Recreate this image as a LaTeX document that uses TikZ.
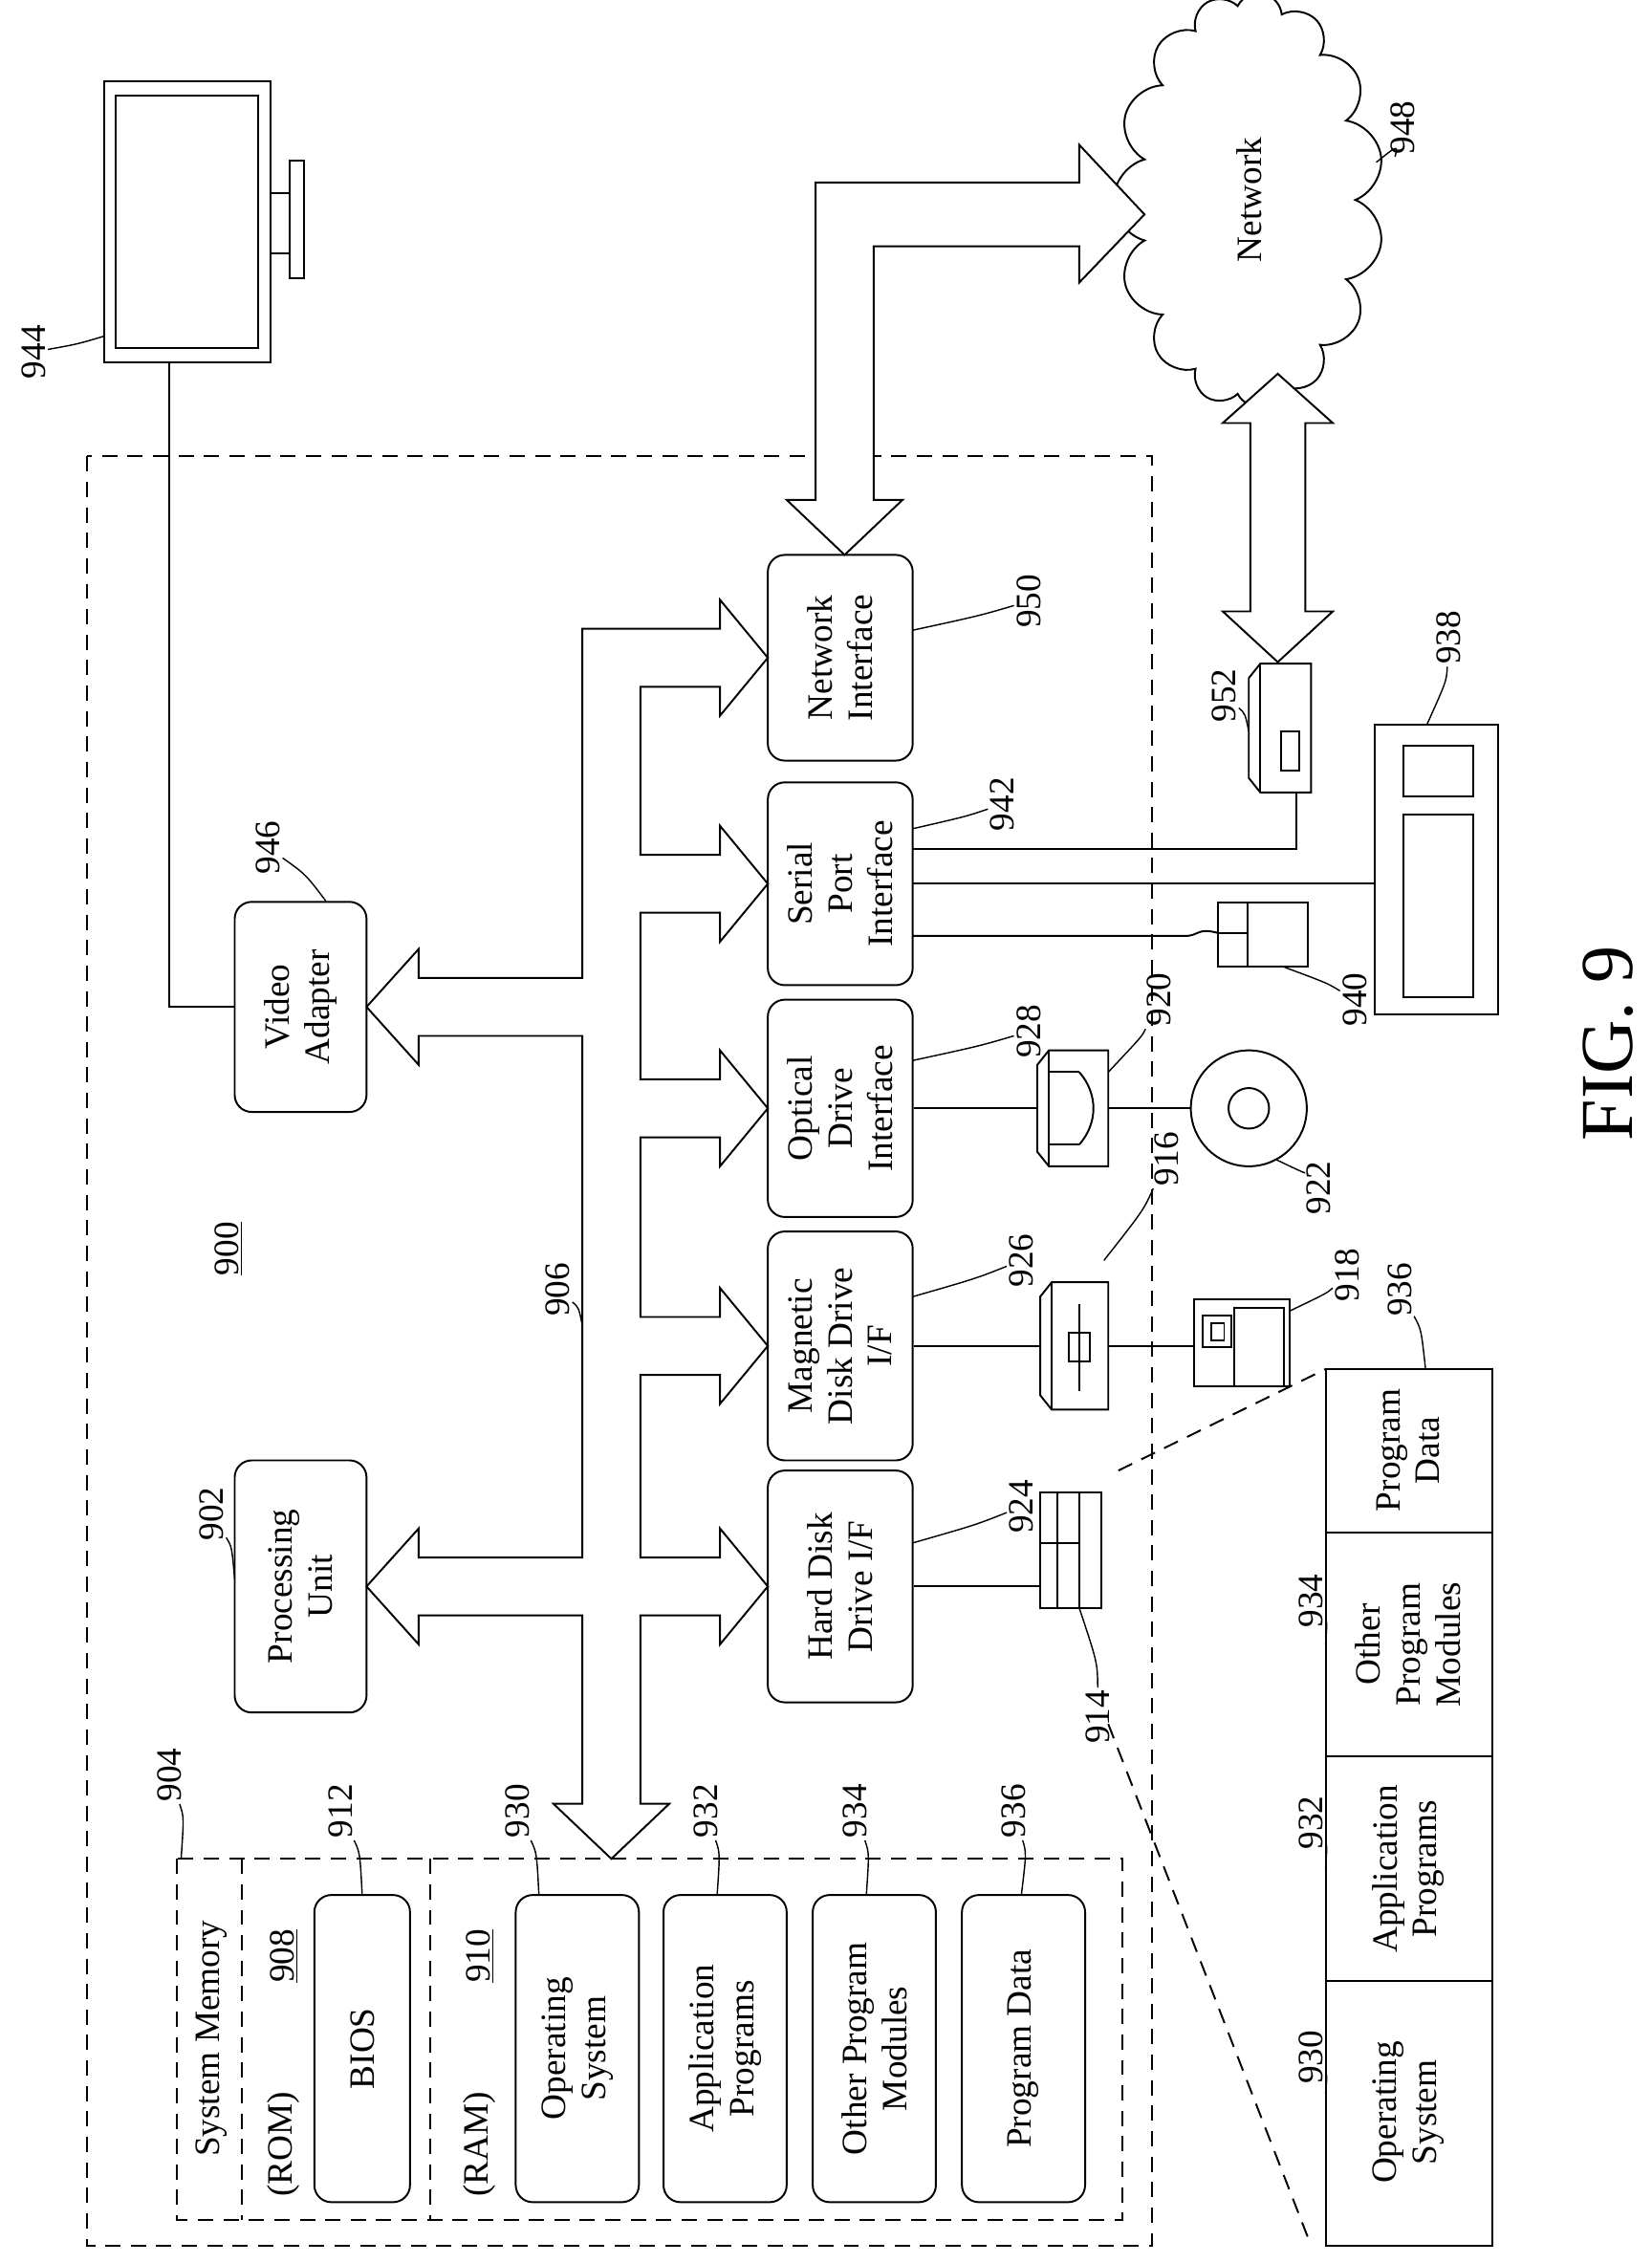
\documentclass[tikz,border=0pt]{standalone}
\usepackage{fontspec}
\setmainfont{Liberation Serif}
\usetikzlibrary{shapes.symbols,calc}
\tikzset{
  box/.style={draw, rounded corners=10pt, rotate=90, align=center, inner sep=1pt},
  num/.style={rotate=90, inner sep=1pt},
  lead/.style={line width=0.8pt},
  dsh/.style={dash pattern=on 9pt off 6pt},
  every node/.style={font=\fontsize{21}{23.5}\selectfont},
}
\begin{document}
\begin{tikzpicture}[x=0.03cm, y=-0.03cm, line width=1.1pt]
\useasboundingbox (0,0) rectangle (1140,1562);
% frames
\draw[dsh] (60,315) rectangle (795,1550);
\draw[dsh] (122,1283) rectangle (775,1532);
\draw[dsh] (167,1283) -- (167,1532) (297,1283) -- (297,1532);
\node[num] (sysmem) at (146,1407) {System Memory};
\node[num] (rom) at (196,1480) {(ROM)};
\node[num] (romid) at (196,1350) {\underline{908}};
\node[num] (ram) at (331,1480) {(RAM)};
\node[num] (ramid) at (331,1350) {\underline{910}};
\node[num] (sysid) at (158,862) {\underline{900}};
% memory contents
\node[box, minimum width=6.36cm, minimum height=1.98cm] (bios) at (250,1414) {BIOS};
\node[box, minimum width=6.36cm, minimum height=2.55cm] (os) at (398.5,1414) {Operating\\System};
\node[box, minimum width=6.36cm, minimum height=2.55cm] (apps) at (500.5,1414) {Application\\Programs};
\node[box, minimum width=6.36cm, minimum height=2.55cm] (mods) at (603.5,1414) {Other Program\\Modules};
\node[box, minimum width=6.36cm, minimum height=2.55cm] (data) at (706.5,1414) {Program Data};
% units
\node[box, minimum width=5.22cm, minimum height=2.73cm] (cpu) at (207.5,1095) {Processing\\Unit};
\node[box, minimum width=4.35cm, minimum height=2.73cm] (video) at (207.5,695) {Video\\Adapter};
\node[box, minimum width=4.8cm, minimum height=3cm] (hdd) at (580,1095) {Hard Disk\\Drive I/F};
\node[box, minimum width=4.74cm, minimum height=3cm] (fdd) at (580,929) {Magnetic\\Disk Drive\\I/F};
\node[box, minimum width=4.5cm, minimum height=3cm] (odd) at (580,765) {Optical\\Drive\\Interface};
\node[box, minimum width=4.2cm, minimum height=3cm] (serial) at (580,610) {Serial\\Port\\Interface};
\node[box, minimum width=4.26cm, minimum height=3cm] (nic) at (580,454) {Network\\Interface};
\coordinate (sp) at (630,610);
% system bus
\draw[fill=white] (402,434) -- (497,434) -- (497,414) -- (530,454) -- (497,494) -- (497,474) -- (442,474)
  -- (442,590) -- (497,590) -- (497,570) -- (530,610) -- (497,650) -- (497,630) -- (442,630)
  -- (442,745) -- (497,745) -- (497,725) -- (530,765) -- (497,805) -- (497,785) -- (442,785)
  -- (442,909) -- (497,909) -- (497,889) -- (530,929) -- (497,969) -- (497,949) -- (442,949)
  -- (442,1075) -- (497,1075) -- (497,1055) -- (530,1095) -- (497,1135) -- (497,1115) -- (442,1115)
  -- (442,1245) -- (462,1245) -- (422,1283) -- (382,1245) -- (402,1245)
  -- (402,1115) -- (289,1115) -- (289,1135) -- (253,1095) -- (289,1055) -- (289,1075) -- (402,1075)
  -- (402,715) -- (289,715) -- (289,735) -- (253,695) -- (289,655) -- (289,675) -- (402,675) -- cycle;
% monitor
\draw (72,56) rectangle (187,250);
\draw (80,66) rectangle (178,240);
\draw (187,133) rectangle (200,175);
\draw (200,111) rectangle (210,192);
\coordinate (mon) at (117,250);
\draw (mon) |- (video);
% network
\node[draw, cloud, cloud puffs=15, cloud ignores aspect, rotate=90, minimum width=8.6cm, minimum height=5.6cm] (net) at (862,138) {Network};
\draw[fill=white] (563,345) -- (543,345) -- (583,383) -- (623,345) -- (603,345) -- (603,170) -- (745,170)
  -- (745,195) -- (790,148) -- (745,100) -- (745,126) -- (563,126) -- cycle;
\draw[fill=white] (863,292) -- (844,292) -- (882,258) -- (920,292) -- (901,292) -- (901,422)
  -- (920,422) -- (882,457) -- (844,422) -- (863,422) -- cycle;
% modem
\draw (870,458) -- (905,458) -- (905,547) -- (870,547) -- (862,537) -- (862,468) -- cycle;
\draw (870,458) -- (870,547);
\draw (884,505) rectangle (897,532);
\coordinate (modem) at (895,547);
% keyboard and mouse
\draw (949,500) rectangle (1034,700);
\draw (969,515) rectangle (1017,550);
\draw (969,562) rectangle (1017,688);
\coordinate (kbd) at (949,610);
\draw (841,623) rectangle (903,667);
\draw (841,644) -- (861,644) (861,623) -- (861,667);
\coordinate (mouse) at (841,644);
\draw (sp |- 0,586) -| (modem);
\draw (sp) -- (kbd);
\draw (sp |- 0,646) -- (818,646) .. controls (828,646) and (826,640) .. (mouse);
% optical drive and disc
\draw (724,725) -- (765,725) -- (765,805) -- (724,805) -- (716,795) -- (716,735) -- cycle;
\draw (724,725) -- (724,805) (724,740) -- (745,740) (724,790) -- (745,790);
\draw (745,740) .. controls (758,755) and (758,775) .. (745,790);
\node[draw, circle, minimum size=2.4cm] (disc) at (862,765) {};
\draw (862,765) circle[radius=14];
\draw (odd) -- (716,765) (765,765) -- (disc);
% magnetic drive and floppy
\draw (726,885) -- (765,885) -- (765,973) -- (726,973) -- (718,963) -- (718,895) -- cycle;
\draw (726,885) -- (726,973) (745,900) -- (745,960) (738,920) rectangle (752,940);
\draw (824,897) rectangle (890,957);
\draw (830,908) rectangle (850,930) (836,913) rectangle (845,925) (852,903) rectangle (886,957);
\draw (fdd) -- (718,929) (765,929) -- (824,929);
% hard disk
\draw (718,1030) rectangle (760,1110);
\draw (730,1030) -- (730,1110) (745,1030) -- (745,1110) (718,1065) -- (745,1065);
\draw (hdd) -- (718,1095);
% program list
\draw (915,945) rectangle (1030,1550);
\draw (915,1058) -- (1030,1058) (915,1212) -- (1030,1212) (915,1367) -- (1030,1367);
\node[num, align=center] (ldata) at (972,1001) {Program\\Data};
\node[num, align=center] (lmods) at (972,1135) {Other\\Program\\Modules};
\node[num, align=center] (lapps) at (972,1290) {Application\\Programs};
\node[num, align=center] (los) at (972,1458) {Operating\\System};
\draw[dsh] (772,1015) -- (915,945);
\draw[dsh] (765,1190) -- (905,1550);
% reference numerals
\foreach \n/\x/\y/\ex/\ey in {904/117/1225/125/1283, 912/235/1250/250/1308, 930/357/1250/372/1308,
  932/487/1250/495/1308, 934/590/1250/598/1308, 936/700/1250/705/1308, 902/146/1045/162/1090,
  946/185/585/225/622, 906/385/890/402/915, 944/23/243/72/232, 924/705/1040/630/1065,
  926/705/870/630/895, 928/710/712/630/732, 942/692/555/630/572, 950/710/415/630/435,
  916/805/800/762/870, 918/930/880/890/905, 920/800/690/765/740, 922/910/820/880/800,
  914/758/1185/745/1110, 940/935/690/885/667, 938/1000/440/985/500, 952/845/480/862/505,
  948/968/88/950/112, 936/966/890/984/945, 934/905/1105/915/1135, 932/905/1258/915/1290,
  930/905/1420/915/1445}{
  \node[num] (n\n) at (\x,\y) {\n};
  \draw[lead] (n\n) .. controls ($(n\n)!0.5!(\ex,\ey)+(6,0)$) .. (\ex,\ey);
}
\node[num, font=\fontsize{44}{52}\selectfont] (fig) at (1110,720) {FIG. 9};
\end{tikzpicture}
\end{document}
